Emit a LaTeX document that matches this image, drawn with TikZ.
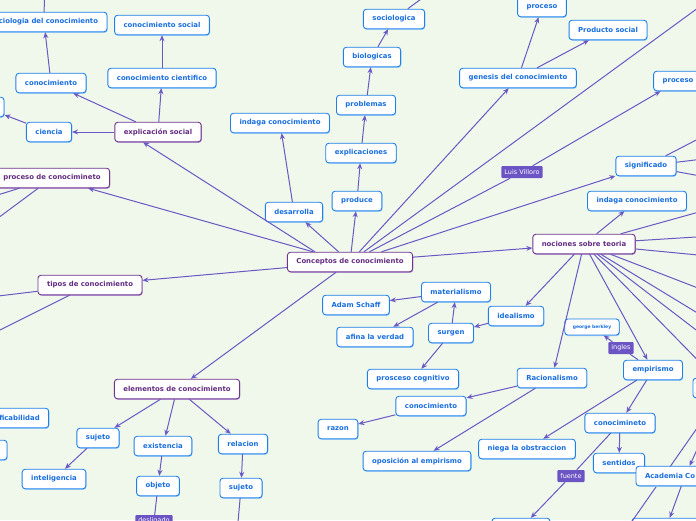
\documentclass[tikz,border=0pt]{standalone}
\usepackage{fontspec}
\setmainfont{DejaVu Sans}
\usepackage{tikz}
\usetikzlibrary{arrows.meta}
\definecolor{MapBack}{RGB}{240,248,236}
\definecolor{TopicLine}{RGB}{112,52,142}
\definecolor{TopicText}{RGB}{98,44,128}
\definecolor{TopicShade}{RGB}{172,142,204}
\definecolor{IdeaLine}{RGB}{30,128,232}
\definecolor{IdeaText}{RGB}{24,110,222}
\definecolor{IdeaShade}{RGB}{150,200,245}
\definecolor{TagFill}{RGB}{108,84,196}
\definecolor{LinkLine}{RGB}{106,88,196}

\begin{document}
\begin{tikzpicture}[
    x=1pt, y=-1pt,
    box/.style={rounded corners=3pt, fill=white, line width=0.9pt, minimum height=19.5pt, inner xsep=9pt, inner ysep=2pt, font=\fontsize{6.9}{8}\selectfont\bfseries},
    topic/.style={box, draw=TopicLine, text=TopicText, preaction={fill=TopicShade, transform canvas={shift={(0.6pt,-1pt)}}}},
    idea/.style={box, draw=IdeaLine, text=IdeaText, preaction={fill=IdeaShade, transform canvas={shift={(0.6pt,-1pt)}}}},
    tiny/.style={idea, minimum height=16pt, inner xsep=8pt, font=\fontsize{4.5}{5}\selectfont\bfseries},
    tag/.style={fill=TagFill, text=white, rounded corners=1pt, inner xsep=3pt, inner ysep=0pt, minimum height=12pt, font=\fontsize{6.5}{7}\selectfont},
    arr/.style={-{Stealth[length=6pt, width=5pt]}, draw=LinkLine, line width=1pt},
    link/.style={draw=LinkLine, line width=1pt},
]

\useasboundingbox (0,0) rectangle (696,520);
\fill[MapBack] (0,0) rectangle (696,520);
\clip (0,0) rectangle (696,520);

% --- Main topics ---
\node[topic] at (350,262) (central) {Conceptos de conocimiento};
\node[topic] at (158,132) (expl)    {explicación social};
\node[topic] at (52,178)  (proc)    {proceso de conocimineto};
\node[topic] at (90,285)  (tipos)   {tipos de conocimiento};
\node[topic] at (177,389) (elem)    {elementos de conocimiento};
\node[topic] at (584,244) (noc)     {nociones sobre teoria};

% --- Upper left branch ---
\node[idea] at (44,22)   (sociodc) {sociologia del conocimiento};
\node[idea] at (51,83)   (conoc)   {conocimiento};
\node[idea] at (162,25)  (csocial) {conocimiento social};
\node[idea] at (162,78)  (ccient)  {conocimiento cientifico};
\node[idea] at (49,132)  (ciencia) {ciencia};
\node[idea, minimum width=40pt] at (-16,107) (leftA) {};

% --- Upper middle column ---
\node[idea] at (280,123) (indagaL)   {indaga conocimiento};
\node[idea] at (294,212) (desarr)    {desarrolla};
\node[idea] at (357,201) (produce)   {produce};
\node[idea] at (361,153) (explic)    {explicaciones};
\node[idea] at (366,105) (problemas) {problemas};
\node[idea] at (372,57)  (biolog)    {biologicas};
\node[idea] at (394,19)  (sociolog)  {sociologica};

% --- Upper right ---
\node[idea] at (518,78)  (genesis) {genesis del conocimiento};
\node[idea] at (542,7)   (procT)   {proceso};
\node[idea] at (608,30)  (prodsoc) {Producto social};
\node[idea] at (678,81)  (procR)   {proceso};
\node[tag]  at (522,172) (villoro) {Luis Villoro};
\node[idea] at (646,166) (signif)  {significado};
\node[idea] at (637,201) (indagaR) {indaga conocimiento};

% --- Theories ---
\node[idea] at (456,292) (materia)  {materialismo};
\node[idea] at (356,305) (adam)     {Adam Schaff};
\node[idea] at (375,337) (afina)    {afina la verdad};
\node[idea] at (451,333) (surgen)   {surgen};
\node[idea] at (516,316) (ideal)    {idealismo};
\node[idea] at (413,379) (cognit)   {prosceso cognitivo};
\node[idea] at (431,406) (conocM)   {conocimiento};
\node[idea] at (338,429) (razon)    {razon};
\node[idea] at (417,461) (oposic)   {oposición al empirismo};
\node[idea] at (552,378) (racion)   {Racionalismo};
\node[tiny] at (592,327) (berkley)  {george berkley};
\node[tag]  at (621,348) (ingles)   {ingles};
\node[idea] at (653,370) (empir)    {empirismo};
\node[idea] at (527,449) (niega)    {niega la obstraccion};
\node[idea] at (620,423) (conocE)   {conocimineto};
\node[idea] at (619,463) (sentidos) {sentidos};
\node[tag]  at (571,476) (fuente)   {fuente};
\node[idea, minimum width=64pt] at (725,388) (rightB)  {};
\node[idea, minimum width=58pt] at (521,528) (bottomA) {};
\node[idea, minimum width=68pt] at (666,528) (bottomB) {};

% --- Lower left ---
\node[idea] at (12,418)  (verif)   {verificabilidad};
\node[idea, minimum width=54pt] at (-20,450) (leftB) {};
\node[idea] at (98,438)  (sujetoL) {sujeto};
\node[idea] at (54,479)  (intel)   {inteligencia};
\node[idea] at (163,446) (exist)   {existencia};
\node[idea] at (158,486) (objeto)  {objeto};
\node[idea] at (243,444) (relac)   {relacion};
\node[idea] at (241,488) (sujetoR) {sujeto};
\node[tag]  at (154,521) (desl)    {desligado};

% --- Loose ends beyond the page ---
\coordinate (upSoc)  at (45,-40);
\coordinate (upBio)  at (440,-15);
\coordinate (upRt)   at (750,-30);
\coordinate (procA)  at (-60,213);
\coordinate (procB)  at (-60,261);
\coordinate (tipA)   at (-60,303);
\coordinate (tipB)   at (-60,360);
\coordinate (sigA)   at (760,107);
\coordinate (sigB)   at (760,152);
\coordinate (sigC)   at (760,187);
\coordinate (nocA)   at (760,195);
\coordinate (nocB)   at (760,233);
\coordinate (nocC)   at (760,261);
\coordinate (nocD)   at (760,312);
\coordinate (nocE)   at (760,351);
\coordinate (nocF)   at (760,379);
\coordinate (dnSuj)  at (236,545);
\coordinate (dnRt)   at (605,560);

% --- From the centre ---
\draw[arr] ([xshift=-35pt]central.north) -- ([xshift=-15pt]expl.south);
\draw[arr] ([xshift=-37pt]central.north) -- (proc);
\draw[arr] (central) -- (tipos);
\draw[arr] (central) -- (elem);
\draw[arr] (central) -- (desarr);
\draw[arr] (central) -- (produce);
\draw[arr] (central) -- (genesis);
\draw[arr] (central) -- (signif);
\draw[arr] (central) -- (noc);
\draw[link] (central) -- (villoro);
\draw[arr] (villoro) -- (procR);
\draw[link] (central) -- (upRt);

% --- Upper left ---
\draw[arr] (expl) -- (conoc);
\draw[arr] (expl) -- (ccient);
\draw[arr] (expl) -- (ciencia);
\draw[arr] (ccient) -- (csocial);
\draw[arr] (conoc) -- (sociodc);
\draw[arr] (ciencia) -- (leftA);
\draw[link] (sociodc) -- (upSoc);
\draw[link] (proc) -- (procA);
\draw[link] (proc) -- (procB);
\draw[link] (tipos) -- (tipA);
\draw[link] (tipos) -- (tipB);

% --- Upper column ---
\draw[arr] (desarr) -- (indagaL);
\draw[arr] (produce) -- (explic);
\draw[arr] (explic) -- (problemas);
\draw[arr] (problemas) -- (biolog);
\draw[arr] (biolog) -- (sociolog);
\draw[link] (sociolog) -- (upBio);
\draw[arr] (genesis) -- (procT);
\draw[arr] (genesis) -- (prodsoc);
\draw[link] (signif) -- (sigA);
\draw[link] (signif) -- (sigB);
\draw[link] (signif) -- (sigC);

% --- Nociones sobre teoria ---
\draw[arr] (noc) -- (indagaR);
\draw[arr] (noc) -- (ideal);
\draw[arr] (noc) -- (racion);
\draw[arr] (noc) -- (empir);
\draw[arr] (noc) -- (rightB);
\foreach \tgt in {nocA, nocB, nocC, nocD, nocE, nocF}
    \draw[link] (noc) -- (\tgt);
\draw[arr] (ideal) -- (surgen);
\draw[arr] (surgen) -- (materia);
\draw[arr] (materia) -- (adam);
\draw[arr] (materia) -- (afina);
\draw[arr] (surgen) -- (cognit);
\draw[arr] (racion) -- (conocM);
\draw[arr] (racion) -- (oposic);
\draw[arr] (conocM) -- (razon);
\draw[link] (empir) -- (ingles);
\draw[arr] (ingles) -- (berkley);
\draw[arr] (empir) -- (niega);
\draw[arr] (empir) -- (conocE);
\draw[arr] (conocE) -- (sentidos);
\draw[link] (conocE) -- (fuente);
\draw[arr] (fuente) -- (bottomA);
\draw[link] (rightB) -- (dnRt);

% --- Academia box sits over the long line ---
\node[idea, text width=80pt, align=left] at (685,476) (academia) {Academia Co};
\draw[arr] (rightB) -- (academia);
\draw[arr] (academia) -- (bottomB);

% --- Elementos ---
\draw[arr] (elem) -- (sujetoL);
\draw[arr] (elem) -- (exist);
\draw[arr] (elem) -- (relac);
\draw[arr] (sujetoL) -- (intel);
\draw[arr] (exist) -- (objeto);
\draw[arr] (relac) -- (sujetoR);
\draw[link] (objeto) -- (desl);
\draw[link] (sujetoR) -- (dnSuj);

\end{tikzpicture}
\end{document}
